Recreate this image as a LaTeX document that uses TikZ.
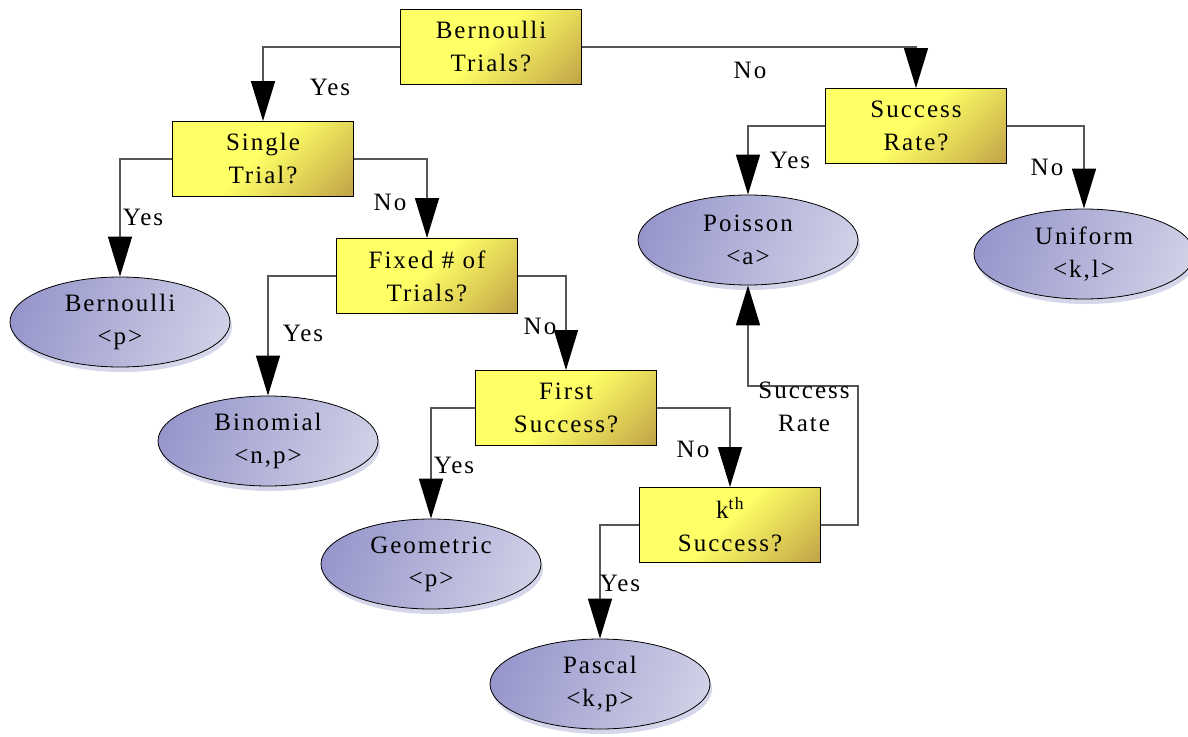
\documentclass[tikz,border=0pt]{standalone}
\usepackage{fontspec}
\setmainfont{Liberation Serif}[LetterSpace=8]
\usetikzlibrary{arrows.meta,shapes.geometric}
\definecolor{byel}{HTML}{FFFF66}
\definecolor{bbrown}{HTML}{A87E3A}
\definecolor{eblue}{HTML}{7E7EC0}
\definecolor{elight}{HTML}{E8E8F2}
\definecolor{eshadow}{HTML}{D6D6EA}
\definecolor{lgray}{HTML}{555555}
\pgfdeclarehorizontalshading{boxsh}{100bp}{color(0bp)=(byel); color(48bp)=(byel); color(100bp)=(bbrown)}
\pgfdeclarehorizontalshading{ellsh}{100bp}{color(0bp)=(eblue); color(100bp)=(elight)}
\begin{document}
\begin{tikzpicture}[x=1pt,y=-1pt,
 every node/.style={font=\fontsize{25}{33}\selectfont, align=center},
 qbox/.style={draw=black, line width=1pt, shading=boxsh, shading angle=-45, minimum width=181pt, minimum height=75pt, inner sep=0pt},
 dist/.style={ellipse, draw=black, line width=0.8pt, shading=ellsh, shading angle=-20, minimum width=220pt, minimum height=90pt, inner sep=0pt,
   preaction={draw=none, fill=eshadow, transform canvas={xshift=2pt,yshift=-5pt}}},
 conn/.style={draw=lgray, line width=1.5pt, -{Triangle[length=40pt,width=24pt,color=black]}},
 lbl/.style={inner sep=0pt}
]
\useasboundingbox (0,0) rectangle (1188,736);
\node[qbox] (q1) at (491,47) {Bernoulli\\Trials?};
\node[qbox] (q2) at (263,159) {Single\\Trial?};
\node[qbox] (q3) at (427,276) {Fixed \# of\\Trials?};
\node[qbox] (q4) at (566,408) {First\\Success?};
\node[qbox] (q5) at (730,525) {k\textsuperscript{th}\\Success?};
\node[qbox] (q6) at (916,126) {Success\\Rate?};
\node[dist] (e1) at (120,322) {Bernoulli\\<p>};
\node[dist] (e2) at (268,441) {Binomial\\<n,p>};
\node[dist] (e3) at (431,564) {Geometric\\<p>};
\node[dist] (e4) at (600,684) {Pascal\\<k,p>};
\node[dist] (e5) at (748,240) {Poisson\\<a>};
\node[dist] (e6) at (1084,254) {Uniform\\<k,l>};
\coordinate (sr) at (858,386);
\draw[conn] (q1.west) -| (q2.north);
\draw[conn] (q1.east) -| (q6.north);
\draw[conn] (q2.west) -| (e1.north);
\draw[conn] (q2.east) -| (q3.north);
\draw[conn] (q3.west) -| (e2.north);
\draw[conn] (q3.east) -| (q4.north);
\draw[conn] (q4.west) -| (e3.north);
\draw[conn] (q4.east) -| (q5.north);
\draw[conn] (q5.west) -| (e4.north);
\draw[conn] (q5.east) -| (sr) -| (e5.south);
\draw[conn] (q6.west) -| (e5.north);
\draw[conn] (q6.east) -| (e6.north);
\node[lbl] (l1) at (330,87) {Yes};
\node[lbl] (l2) at (750,70) {No};
\node[lbl] (l3) at (143,217) {Yes};
\node[lbl] (l4) at (390,202) {No};
\node[lbl] (l5) at (303,333) {Yes};
\node[lbl] (l6) at (540,326) {No};
\node[lbl] (l7) at (454,465) {Yes};
\node[lbl] (l8) at (693,449) {No};
\node[lbl] (l9) at (620,583) {Yes};
\node[lbl] (l10) at (804,407) {Success\\Rate};
\node[lbl] (l11) at (790,160) {Yes};
\node[lbl] (l12) at (1047,167) {No};
\end{tikzpicture}
\end{document}
